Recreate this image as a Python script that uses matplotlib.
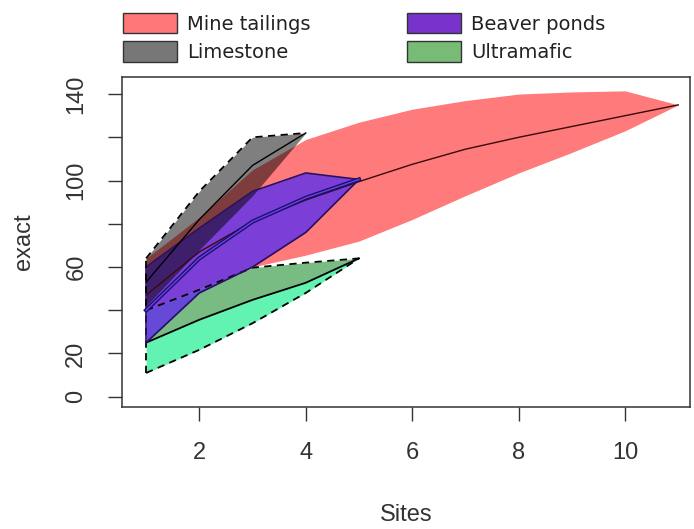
import matplotlib
matplotlib.use('Agg')
import matplotlib.pyplot as plt
from matplotlib.patches import Patch
import numpy as np

# species accumulation: mean and +/- 2 sd envelope per habitat
mine_sites = [1, 2, 3, 4, 5, 6, 7, 8, 9, 10, 11]
mine_mean = [47, 67, 81, 91, 99.5, 107.5, 114.5, 120, 125, 130, 135]
mine_upper = [64, 83, 105, 119, 127, 133, 137, 140, 141, 141.5, 135]
mine_lower = [40, 50, 60, 65.5, 72, 82, 93, 103.5, 113, 123, 135]

lime_sites = [1, 2, 3, 4]
lime_mean = [53, 82, 107, 122]
lime_upper = [64, 95, 120, 122]
lime_lower = [42, 68, 93, 122]

beaver_sites = [1, 2, 3, 4, 5]
beaver_mean = [40, 64, 81, 92, 100.5]
beaver_upper = [60, 78, 95, 103.5, 100.5]
beaver_lower = [25, 48, 60, 76, 100.5]

ultra_sites = [1, 2, 3, 4, 5]
ultra_mean = [25, 35.6, 44.8, 52.7, 64]
ultra_upper = [40, 49.5, 59.7, 62, 64]
ultra_lower = [11, 21.7, 34, 48, 64]

labels = ['Mine tailings', 'Limestone', 'Beaver ponds', 'Ultramafic']
legend_cols = ['#FF7777', '#777777', '#7733CC', '#77BB77']

xticks = [2, 4, 6, 8, 10]
yticks = [0, 20, 40, 60, 80, 100, 120, 140]
ytick_labels = ['0', '20', '', '60', '', '100', '', '140']

fig = plt.figure(figsize=(6.94, 5.29), dpi=100)
ax = fig.add_axes([122/694, 1-407/529, (690-122)/694, (407-77)/529])

# mine tailings
ax.fill_between(mine_sites, mine_lower, mine_upper, color='#FF0000', alpha=0.52, lw=0)
ax.plot(mine_sites, mine_mean, color='#3a0a0a', lw=1)

# ultramafic
ax.fill_between(ultra_sites, ultra_mean, ultra_upper, color='#3FA04F', alpha=0.7, lw=0)
ax.fill_between(ultra_sites, ultra_lower, ultra_mean, color='#2EF09A', alpha=0.75, lw=0)
ax.plot(ultra_sites, ultra_mean, color='black', lw=1.3)
ax.plot(ultra_sites, ultra_upper, color='black', lw=1.3, ls=(0, (4, 3)))
ax.plot(ultra_sites, ultra_lower, color='black', lw=1.3, ls=(0, (4, 3)))
ax.plot([ultra_sites[0], ultra_sites[0]], [ultra_lower[0], ultra_upper[0]],
        color='black', lw=1.3, ls=(0, (4, 3)))

# beaver ponds
ax.fill_between(beaver_sites, beaver_lower, beaver_upper, color='#6435E8', alpha=0.85, lw=0)
ax.plot(beaver_sites, beaver_upper, color='#2a1060', lw=1.2)
ax.plot(beaver_sites, beaver_lower, color='#2a1060', lw=1.2)
ax.plot([beaver_sites[0], beaver_sites[0]], [beaver_lower[0], beaver_upper[0]],
        color='#2a1060', lw=1.2)
ax.plot(beaver_sites, beaver_mean, color='#1a1070', lw=3)
ax.plot(beaver_sites, beaver_mean, color='#7040e0', lw=1)

# limestone
ax.fill_between(lime_sites, lime_lower, lime_upper, color='#000000', alpha=0.5, lw=0)
ax.plot(lime_sites, lime_mean, color='black', lw=1)
ax.plot(lime_sites, lime_upper, color='black', lw=1.3, ls=(0, (4, 3)))
ax.plot([lime_sites[0], lime_sites[0]], [lime_lower[0], lime_upper[0]],
        color='black', lw=1.3, ls=(0, (4, 3)))

ax.set_xlim(0.547, 11.22)
ax.set_ylim(-4.76, 147.9)

ax.set_xticks(xticks)
ax.set_xticklabels([str(t) for t in xticks], fontsize=17, family='Liberation Sans')
ax.set_yticks(yticks)
ax.set_yticklabels(ytick_labels, fontsize=17, family='Liberation Sans',
                   rotation=90, va='center')
ax.tick_params(axis='both', length=10, width=1, color='#333333', pad=15,
               labelcolor='#333333')
for s in ax.spines.values():
    s.set_color('#333333')
    s.set_linewidth(1.1)

fig.text(406/694, 1-515/529, 'Sites', ha='center', va='center', fontsize=17,
         family='Liberation Sans', color='#333333')
fig.text(24/694, 1-242/529, 'exact', ha='center', va='center', fontsize=17,
         rotation=90, family='Liberation Sans', color='#333333')

handles = [Patch(facecolor=c, edgecolor='#333333', lw=1) for c in legend_cols]
leg_kw = dict(loc='upper left', frameon=False, borderpad=0, borderaxespad=0,
              handlelength=2.78, handleheight=1.24, handletextpad=0.5,
              labelspacing=0.39, prop={'family': 'DejaVu Sans', 'size': 14})
leg1 = fig.legend(handles[:2], labels[:2], bbox_to_anchor=(123/694, 1-13/529), **leg_kw)
leg2 = fig.legend(handles[2:], labels[2:], bbox_to_anchor=(407/694, 1-13/529), **leg_kw)
for leg in (leg1, leg2):
    for t in leg.get_texts():
        t.set_color('#222222')

plt.savefig('out.png', dpi=100)
